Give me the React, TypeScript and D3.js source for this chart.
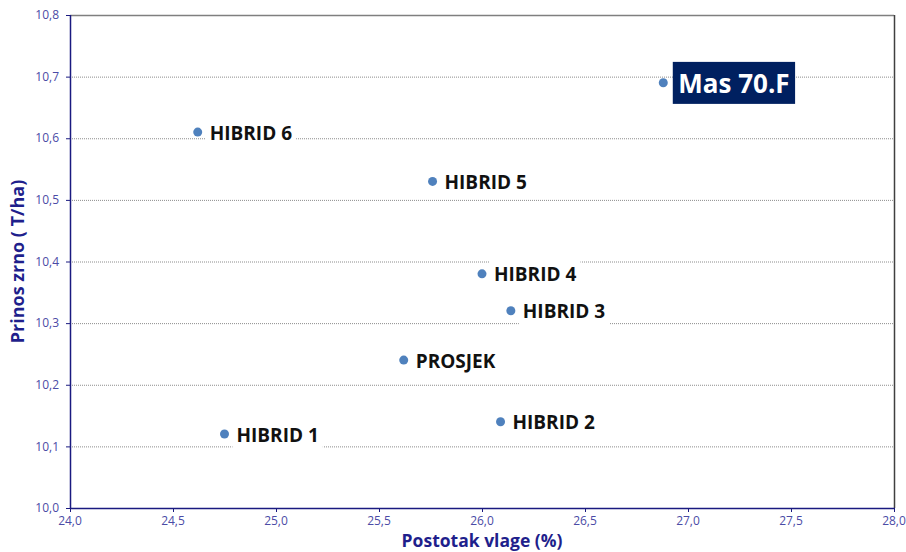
import React, { useEffect, useRef } from "react";
import * as d3 from "d3";

const names = ["Mas 70.F", "HIBRID 6", "HIBRID 5", "HIBRID 4", "HIBRID 3", "PROSJEK", "HIBRID 2", "HIBRID 1"];
const moisture = [26.88, 24.62, 25.76, 26.0, 26.14, 25.62, 26.09, 24.75];
const yieldT = [10.69, 10.61, 10.53, 10.38, 10.32, 10.24, 10.14, 10.12];
const highlighted = ["Mas 70.F"];
const xTicks = [24.0, 24.5, 25.0, 25.5, 26.0, 26.5, 27.0, 27.5, 28.0];
const yTicks = [10.0, 10.1, 10.2, 10.3, 10.4, 10.5, 10.6, 10.7, 10.8];
const xTitle = "Postotak vlage (%)";
const yTitle = "Prinos zrno ( T/ha)";

const W = 906, H = 552;
const M = { left: 70, right: 894, top: 15, bottom: 508 };
const fmt = (v: number) => v.toFixed(1).replace(".", ",");

export default function App() {
  const ref = useRef<SVGSVGElement>(null);
  useEffect(() => {
    const svg = d3.select(ref.current!);
    svg.selectAll("*").remove();
    const x = d3.scaleLinear().domain([24, 28]).range([M.left, M.right]);
    const y = d3.scaleLinear().domain([10, 10.8]).range([M.bottom, M.top]);
    const tickColor = "#4b4ba6";
    const font = "Open Sans, Liberation Sans, sans-serif";

    // gridlines
    svg.append("g").selectAll("line").data(yTicks.filter(t => t > 10 && t < 10.8)).join("line")
      .attr("x1", M.left).attr("x2", M.right)
      .attr("y1", d => y(d) + 0.5).attr("y2", d => y(d) + 0.5)
      .attr("stroke", "#8c8c8c").attr("stroke-width", 1).attr("stroke-dasharray", "1,1");
    // top & right border
    svg.append("line").attr("x1", M.left).attr("x2", M.right).attr("y1", y(10.8) + 0.5).attr("y2", y(10.8) + 0.5)
      .attr("stroke", "#7f7f7f").attr("stroke-width", 1.5);
    svg.append("line").attr("x1", M.right + 0.5).attr("x2", M.right + 0.5).attr("y1", M.top).attr("y2", M.bottom)
      .attr("stroke", "#404040").attr("stroke-width", 1.5);

    // axes
    const ga = svg.append("g");
    ga.append("line").attr("x1", M.left + 0.5).attr("x2", M.left + 0.5).attr("y1", M.top).attr("y2", M.bottom + 0.5)
      .attr("stroke", "#1a1a80").attr("stroke-width", 1.5);
    ga.append("line").attr("x1", M.left).attr("x2", M.right + 1).attr("y1", M.bottom + 0.5).attr("y2", M.bottom + 0.5)
      .attr("stroke", "#1a1a80").attr("stroke-width", 1.5);
    ga.selectAll(".yt").data(yTicks).join("line").attr("class", "yt")
      .attr("x1", M.left - 4).attr("x2", M.left).attr("y1", d => y(d) + 0.5).attr("y2", d => y(d) + 0.5)
      .attr("stroke", "#1a1a80");
    ga.selectAll(".xt").data(xTicks).join("line").attr("class", "xt")
      .attr("x1", d => x(d) + 0.5).attr("x2", d => x(d) + 0.5).attr("y1", M.bottom).attr("y2", M.bottom + 4)
      .attr("stroke", "#1a1a80");
    ga.selectAll(".yl").data(yTicks).join("text").attr("class", "yl")
      .attr("x", M.left - 11).attr("y", d => y(d)).attr("dy", "0.35em").attr("text-anchor", "end")
      .attr("font-family", font).attr("font-size", 12).attr("fill", tickColor).text(fmt);
    ga.selectAll(".xl").data(xTicks).join("text").attr("class", "xl")
      .attr("x", d => x(d)).attr("y", 520.5).attr("dy", "0.35em").attr("text-anchor", "middle")
      .attr("font-family", font).attr("font-size", 12).attr("fill", tickColor).text(fmt);

    // titles
    svg.append("text").attr("x", (M.left + M.right) / 2).attr("y", 540.5).attr("dy", "0.35em")
      .attr("text-anchor", "middle").attr("font-family", font).attr("font-weight", "bold")
      .attr("font-size", 17.5).attr("fill", "#1f1f8c").text(xTitle);
    svg.append("text").attr("transform", `translate(18,${(M.top + M.bottom) / 2}) rotate(-90)`)
      .attr("dy", "0.35em").attr("text-anchor", "middle").attr("font-family", font).attr("font-weight", "bold")
      .attr("font-size", 18).attr("fill", "#1f1f8c").text(yTitle);

    // labels
    const data = names.map((n, i) => ({ n, xv: moisture[i], yv: yieldT[i], hi: highlighted.includes(n) }));
    data.forEach(d => {
      const g = svg.append("g");
      const rect = g.append("rect");
      const tx = x(d.xv) + (d.hi ? 15 : 12);
      const t = g.append("text").attr("x", tx).attr("y", y(d.yv) + 1).attr("dy", "0.35em")
        .attr("font-family", font).attr("font-weight", "bold")
        .attr("font-size", d.hi ? 26 : 19).attr("fill", d.hi ? "#ffffff" : "#111111").text(d.n);
      const bb = (t.node() as SVGTextElement).getBBox();
      const px = d.hi ? 5.5 : 4, py = d.hi ? 3 : 2;
      rect.attr("x", bb.x - px).attr("y", bb.y - py).attr("width", bb.width + 2 * px).attr("height", bb.height + 2 * py)
        .attr("fill", d.hi ? "#002060" : "#ffffff");
    });
    // points
    svg.append("g").selectAll("circle").data(data).join("circle")
      .attr("cx", d => x(d.xv)).attr("cy", d => y(d.yv)).attr("r", 4.5).attr("fill", "#4f81bd");
  }, []);
  return <svg ref={ref} width={W} height={H} style={{ display: "block", position: "absolute", left: 0, top: 0 }} />;
}
